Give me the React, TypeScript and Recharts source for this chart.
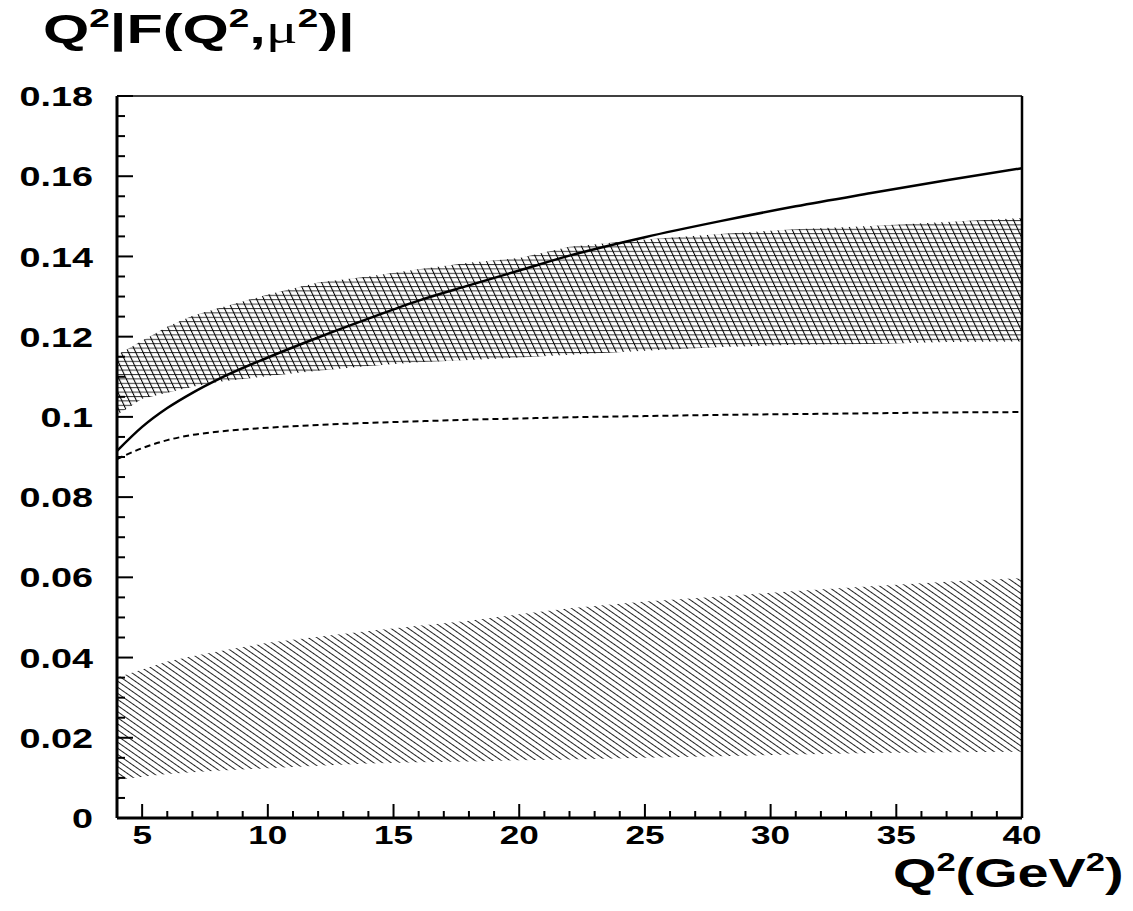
import { Area, ComposedChart, Line, XAxis, YAxis } from 'recharts';

// Q^2 grid (GeV^2)
const q2 = [4, 5, 6, 7, 8, 10, 12, 14, 16, 18, 20, 22, 25, 28, 31, 34, 37, 40];

// cross-hatched band
const upperLow = [0.1005, 0.1045, 0.106, 0.1075, 0.1087, 0.1102, 0.1115, 0.1127, 0.1136, 0.1142, 0.1148, 0.1155, 0.1165, 0.1174, 0.118, 0.1182, 0.1187, 0.1188];
const upperHigh = [0.1154, 0.119, 0.1225, 0.1252, 0.127, 0.1305, 0.1335, 0.135, 0.1368, 0.1384, 0.1396, 0.1424, 0.1442, 0.1456, 0.1468, 0.1476, 0.1486, 0.1496];

// single-hatched band
const lowerLow = [0.0095, 0.0103, 0.011, 0.0114, 0.0118, 0.0124, 0.013, 0.0136, 0.0139, 0.0141, 0.0144, 0.0146, 0.015, 0.0154, 0.0158, 0.0162, 0.0164, 0.0165];
const lowerHigh = [0.035, 0.037, 0.039, 0.0403, 0.0415, 0.0437, 0.0452, 0.0466, 0.0479, 0.0492, 0.0508, 0.0523, 0.054, 0.0552, 0.0566, 0.0578, 0.0589, 0.0598];

// curves
const solid = [0.0915, 0.0975, 0.1022, 0.106, 0.1093, 0.1148, 0.1198, 0.1245, 0.129, 0.1328, 0.1365, 0.1402, 0.1448, 0.1488, 0.1525, 0.1558, 0.159, 0.162];
const dashed = [0.0895, 0.0922, 0.0942, 0.0955, 0.0963, 0.0973, 0.098, 0.0985, 0.0989, 0.0993, 0.0996, 0.0999, 0.1002, 0.1005, 0.1007, 0.1009, 0.1011, 0.1012];

const yTicks = [0, 0.005, 0.01, 0.015, 0.02, 0.025, 0.03, 0.035, 0.04, 0.045, 0.05, 0.055, 0.06, 0.065, 0.07, 0.075, 0.08, 0.085, 0.09, 0.095, 0.1, 0.105, 0.11, 0.115, 0.12, 0.125, 0.13, 0.135, 0.14, 0.145, 0.15, 0.155, 0.16, 0.165, 0.17, 0.175, 0.18];
const yLabels = [0, 0.02, 0.04, 0.06, 0.08, 0.1, 0.12, 0.14, 0.16, 0.18];
const xTicks = [4, 5, 6, 7, 8, 9, 10, 11, 12, 13, 14, 15, 16, 17, 18, 19, 20, 21, 22, 23, 24, 25, 26, 27, 28, 29, 30, 31, 32, 33, 34, 35, 36, 37, 38, 39, 40];
const xLabels = [5, 10, 15, 20, 25, 30, 35, 40];

const rows = q2.map((x, i) => ({
  q2: x,
  upper: [upperLow[i], upperHigh[i]],
  lower: [lowerLow[i], lowerHigh[i]],
  solid: solid[i],
  dashed: dashed[i]
}));

const FONT = '"Liberation Sans", Arial, sans-serif';

function YTick({ x, y, payload }: any) {
  const major = yLabels.some((v) => Math.abs(v - payload.value) < 1e-9);
  return (
    <g>
      <line x1={x} x2={x + (major ? 16 : 8)} y1={y} y2={y} stroke="#000" strokeWidth={2} />
      {major && (
        <text transform={`translate(${x - 24},${y}) scale(1.35,1)`} dy="0.36em" textAnchor="end" fontFamily={FONT} fontWeight="bold" fontSize={28} fill="#000">
          {String(payload.value)}
        </text>
      )}
    </g>
  );
}

function XTick({ x, y, payload }: any) {
  const major = xLabels.includes(payload.value);
  return (
    <g>
      <line x1={x} x2={x} y1={y} y2={y - (major ? 14 : 7)} stroke="#000" strokeWidth={2} />
      {major && (
        <text transform={`translate(${x},${y + 17}) scale(1.35,1)`} dy="0.36em" textAnchor="middle" fontFamily={FONT} fontWeight="bold" fontSize={26} fill="#000">
          {String(payload.value)}
        </text>
      )}
    </g>
  );
}

const sup: React.CSSProperties = { fontSize: '0.62em', position: 'relative', top: '-0.62em' };

export default function App(): React.JSX.Element {
  return (
    <div style={{ position: 'absolute', left: 0, top: 0, width: 1133, height: 911, background: '#fff', overflow: 'hidden' }}>
      <ComposedChart width={1133} height={911} data={rows} margin={{ top: 95, left: 17, right: 110, bottom: 53 }}>
        <defs>
          <pattern id="hatchH" patternUnits="userSpaceOnUse" width={10} height={4.4}>
            <line x1={0} x2={10} y1={0.5} y2={0.5} stroke="#333" strokeWidth={1} />
          </pattern>
          <pattern id="hatchSteep" patternUnits="userSpaceOnUse" width={6.6} height={10} patternTransform="rotate(-25)">
            <line x1={0.5} x2={0.5} y1={0} y2={10} stroke="#000" strokeWidth={1.1} />
          </pattern>
          <pattern id="hatchLow" patternUnits="userSpaceOnUse" width={10} height={5} patternTransform="rotate(35)">
            <line x1={0} x2={10} y1={0.5} y2={0.5} stroke="#222" strokeWidth={1} />
          </pattern>
        </defs>
        <XAxis
          dataKey="q2"
          type="number"
          domain={[4, 40]}
          ticks={xTicks}
          tick={<XTick />}
          tickLine={false}
          tickSize={0}
          tickMargin={0}
          height={40}
          axisLine={{ stroke: '#000', strokeWidth: 3 }}
          interval={0}
        />
        <XAxis xAxisId="top" orientation="top" dataKey="q2" type="number" domain={[4, 40]} tick={false} tickLine={false} height={1} axisLine={{ stroke: '#000', strokeWidth: 1.5 }} />
        <YAxis
          type="number"
          domain={[0, 0.18]}
          ticks={yTicks}
          tick={<YTick />}
          tickLine={false}
          tickSize={0}
          tickMargin={0}
          width={100}
          axisLine={{ stroke: '#000', strokeWidth: 3 }}
          interval={0}
        />
        <YAxis yAxisId="right" orientation="right" type="number" domain={[0, 0.18]} tick={false} tickLine={false} width={1} axisLine={{ stroke: '#000', strokeWidth: 2.5 }} />
        <Area dataKey="upper" type="linear" stroke="none" fill="url(#hatchH)" fillOpacity={1} isAnimationActive={false} />
        <Area dataKey="upper" type="linear" stroke="none" fill="url(#hatchSteep)" fillOpacity={1} isAnimationActive={false} />
        <Area dataKey="lower" type="linear" stroke="none" fill="url(#hatchLow)" fillOpacity={1} isAnimationActive={false} />
        <Line dataKey="solid" type="monotone" stroke="#000" strokeWidth={2.5} dot={false} isAnimationActive={false} />
        <Line dataKey="dashed" type="monotone" stroke="#000" strokeWidth={2} strokeDasharray="6 4" dot={false} isAnimationActive={false} />
      </ComposedChart>
      <div style={{ position: 'absolute', left: 43, top: 12, fontFamily: FONT, fontWeight: 'bold', fontSize: 41, lineHeight: '34px', whiteSpace: 'nowrap', transform: 'scaleX(1.45)', transformOrigin: 'left top' }}>
        Q<span style={sup}>2</span>|F(Q<span style={sup}>2</span>,<span style={{ fontFamily: '"Liberation Serif", serif', fontWeight: 'normal' }}>μ</span><span style={sup}>2</span>)|
      </div>
      <div style={{ position: 'absolute', left: 893, top: 856, fontFamily: FONT, fontWeight: 'bold', fontSize: 41, lineHeight: '34px', whiteSpace: 'nowrap', transform: 'scaleX(1.36)', transformOrigin: 'left top' }}>
        Q<span style={sup}>2</span>(GeV<span style={sup}>2</span>)
      </div>
    </div>
  );
}
